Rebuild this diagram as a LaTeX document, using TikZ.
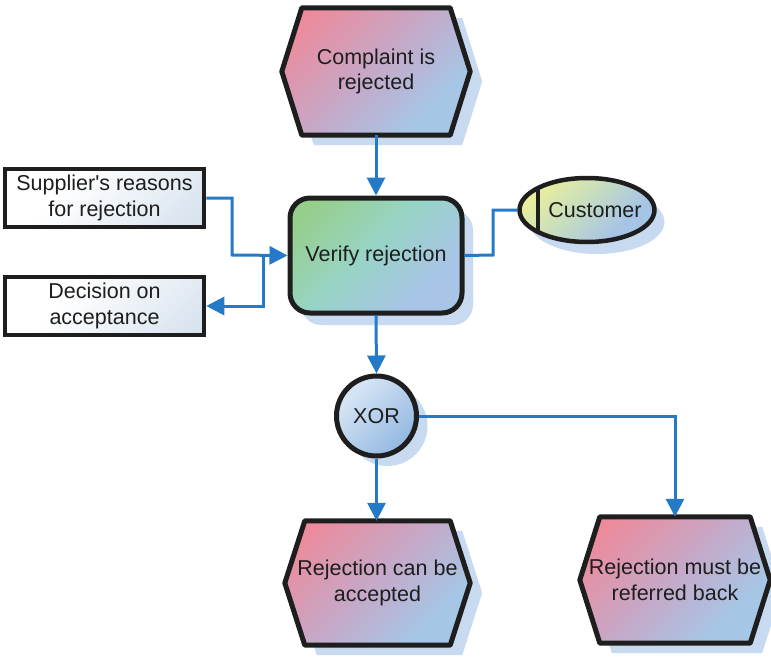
\documentclass[tikz,border=0pt]{standalone}
\usepackage{fontspec}
\setmainfont{Liberation Sans}[Ligatures=TeXOff]
\usetikzlibrary{calc,arrows.meta,backgrounds,shapes.geometric,shadows}

\definecolor{connblue}{RGB}{36,122,198}
\definecolor{shadowfill}{RGB}{200,218,240}
\definecolor{evpink}{RGB}{245,132,146}
\definecolor{evmid}{RGB}{196,170,202}
\definecolor{evblue}{RGB}{166,198,230}
\definecolor{fngreen}{RGB}{150,206,140}
\definecolor{fnteal}{RGB}{152,212,198}
\definecolor{fnblue}{RGB}{168,196,230}
\definecolor{orgyellow}{RGB}{240,240,150}
\definecolor{orgmid}{RGB}{200,222,190}
\definecolor{orgblue}{RGB}{166,196,230}
\definecolor{xorlight}{RGB}{212,228,244}
\definecolor{xordark}{RGB}{150,186,226}
\definecolor{infgrey}{RGB}{206,220,234}
\definecolor{inkdark}{RGB}{30,30,30}

% diagonal colour runs, top left to bottom right
\pgfdeclarehorizontalshading{evshade}{100bp}{color(0bp)=(evpink); color(29bp)=(evpink); color(50bp)=(evmid); color(63bp)=(evblue); color(100bp)=(evblue)}
\pgfdeclarehorizontalshading{fnshade}{100bp}{color(0bp)=(fngreen); color(31bp)=(fngreen); color(48bp)=(fnteal); color(64bp)=(fnblue); color(100bp)=(fnblue)}
\pgfdeclarehorizontalshading{orgshade}{100bp}{color(0bp)=(orgyellow); color(31bp)=(orgyellow); color(47bp)=(orgmid); color(62bp)=(orgblue); color(100bp)=(orgblue)}
\pgfdeclarehorizontalshading{xorshade}{100bp}{color(0bp)=(xorlight); color(32bp)=(xorlight); color(70bp)=(xordark); color(100bp)=(xordark)}
\pgfdeclarehorizontalshading{infshade}{100bp}{color(0bp)=(white); color(42bp)=(white); color(75bp)=(infgrey); color(100bp)=(infgrey)}

% hexagon outline of an event node: node, inset, x offset, y offset
\newcommand\hexpath[4]{($(#1.north west)+(#2+#3,#4)$) -- ($(#1.north east)+(-#2+#3,#4)$) -- ($(#1.east)+(#3,#4)$) -- ($(#1.south east)+(-#2+#3,#4)$) -- ($(#1.south west)+(#2+#3,#4)$) -- ($(#1.west)+(#3,#4)$) -- cycle}
\newcommand\eventshape[1]{%
  \fill[shadowfill] \hexpath{#1}{20}{12}{10};
  \path[draw=inkdark, line width=5, line join=round, diagshade={evshade}{250}] \hexpath{#1}{20}{0}{0};}

\tikzset{
  diagshade/.style 2 args={path picture={
    \coordinate (pc) at (path picture bounding box.center);
    \shade[shading=#1, shading angle=-45]
      ($(pc)+(-#2/2,-#2/2)$) rectangle ($(pc)+(#2/2,#2/2)$);}},
  lbl/.style={font=\fontsize{21.5}{25.5}\selectfont, text=inkdark, align=center, inner sep=0},
  eventbox/.style={lbl, minimum width=#1},
  fnbox/.style={lbl, draw=inkdark, line width=5, rounded corners=20,
    diagshade={fnshade}{210}, minimum width=172, minimum height=115,
    drop shadow={shadow xshift=11pt, shadow yshift=-12pt, fill=shadowfill, opacity=1}},
  infobox/.style={lbl, draw=inkdark, line width=4.5, fill=white, diagshade={infshade}{220},
    minimum width=199, minimum height=58},
  orgunit/.style={lbl, ellipse, draw=inkdark, line width=4.5, minimum width=135, minimum height=64,
    diagshade={orgshade}{150},
    drop shadow={shadow xshift=10pt, shadow yshift=-12pt, fill=shadowfill, opacity=1}},
  xorgate/.style={lbl, circle, draw=inkdark, line width=5, minimum size=80,
    diagshade={xorshade}{90},
    drop shadow={shadow xshift=11pt, shadow yshift=-10pt, fill=shadowfill, opacity=1}},
  conn/.style={draw=connblue, line width=3, -{Triangle[length=18pt,width=18pt]}},
  link/.style={draw=connblue, line width=3}
}

\begin{document}
\begin{tikzpicture}[x=1pt,y=-1pt]
\useasboundingbox (0,0) rectangle (771,658);

% events
\node[eventbox=188, minimum height=127] (complaint) at (376,71.5) {Complaint is\\rejected};
\node[eventbox=185, minimum height=124] (accepted) at (377.5,583) {Rejection can be\\accepted};
\node[eventbox=190, minimum height=126] (referred) at (675,580) {Rejection must be\\referred back};

% function, information objects, organisational unit, rule
\node[fnbox] (verify) at (376,255.5) {Verify rejection};
\node[infobox] (supplier) at (104.5,198) {Supplier's reasons\\for rejection};
\node[infobox] (decision) at (104.5,306) {Decision on\\acceptance};
\node[orgunit] (customer) at (587,210) {\makebox[0pt]{\hspace*{16pt}Customer}};
\draw[inkdark, line width=4] (538,188) -- (538,232);
\node[xorgate] (xor) at (376.5,416) {XOR};

\begin{scope}[on background layer]
  \eventshape{complaint}
  \eventshape{accepted}
  \eventshape{referred}
\end{scope}

% connectors
\coordinate (s1) at (232,255);
\coordinate (j1) at (263,255);
\coordinate (c1) at (493,255);
\draw[conn] (complaint.south) -- (verify.north);
\draw[conn] (supplier.east) -| (s1) -- (verify.west);
\draw[conn] (j1) |- (decision.east);
\draw[link] (verify.east) -- (c1) |- (customer.west);
\draw[conn] (verify.south) -- (xor.north);
\draw[conn] (xor.south) -- (xor.south |- accepted.north);
\draw[conn] (xor.east) -| (referred.north);
\end{tikzpicture}
\end{document}
